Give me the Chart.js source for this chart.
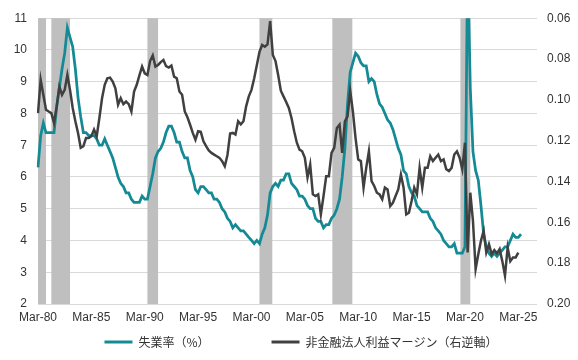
<!DOCTYPE html>
<html><head><meta charset="utf-8">
<script src="https://cdn.jsdelivr.net/npm/chart.js@4"></script>
<style>html,body{margin:0;padding:0;background:#fff}#wrap{width:578px;height:360px}</style>
</head><body><div id="wrap"><canvas id="c" width="578" height="360"></canvas></div>
<script>
// Quarterly categories: Mar-80 ... Dec-26
const firstYear = 1980;
const lastYear = 2026;
const quarterMonths = ['Mar', 'Jun', 'Sep', 'Dec'];
const tickEvery = 20; // one label every 5 years

const seriesNames = ['失業率（%）', '非金融法人利益マージン（右逆軸）'];

// Unemployment rate (%), quarterly from Mar-80
const unemployment = [
  6.3, 7.3, 7.7, 7.4,
  7.4, 7.4, 7.4, 8.2,
  8.8, 9.4, 9.9, 10.7,
  10.4, 10.1, 9.4, 8.5,
  7.9, 7.4, 7.4, 7.3,
  7.3, 7.3, 7.2, 7.0,
  7.0, 7.2, 7.0, 6.8,
  6.6, 6.3, 6.0, 5.8,
  5.7, 5.5, 5.5, 5.3,
  5.2, 5.2, 5.2, 5.4,
  5.3, 5.3, 5.7, 6.1,
  6.6, 6.8, 6.9, 7.1,
  7.4, 7.6, 7.6, 7.4,
  7.1, 7.1, 6.8, 6.6,
  6.6, 6.2, 6.0, 5.6,
  5.5, 5.7, 5.7, 5.6,
  5.5, 5.5, 5.3, 5.3,
  5.2, 5.0, 4.9, 4.7,
  4.6, 4.4, 4.5, 4.4,
  4.3, 4.3, 4.2, 4.1,
  4.0, 3.9, 4.0, 3.9,
  4.2, 4.4, 4.8, 5.5,
  5.7, 5.8, 5.7, 5.9,
  5.9, 6.1, 6.1, 5.8,
  5.7, 5.6, 5.4, 5.4,
  5.3, 5.1, 5.0, 5.0,
  4.7, 4.6, 4.6, 4.4,
  4.5, 4.5, 4.7, 4.8,
  5.0, 5.3, 6.0, 6.9,
  8.3, 9.3, 9.6, 9.9,
  9.8, 9.6, 9.5, 9.5,
  9.0, 9.1, 9.0, 8.6,
  8.3, 8.2, 8.0, 7.8,
  7.7, 7.5, 7.2, 6.9,
  6.7, 6.2, 6.1, 5.7,
  5.5, 5.4, 5.1, 5.0,
  4.9, 4.9, 4.9, 4.7,
  4.6, 4.4, 4.3, 4.2,
  4.0, 3.9, 3.8, 3.8,
  3.9, 3.6, 3.6, 3.6,
  3.8, 13.0, 8.8, 6.8,
  6.2, 5.9, 5.1, 4.2,
  3.8, 3.6, 3.5, 3.6,
  3.5, 3.6, 3.7, 3.8,
  3.8, 4.0, 4.2, 4.1,
  4.1, 4.2
];

// Non-financial corporate profit margin (right axis, reversed), quarterly from Mar-80
const profitMargin = [
  0.1065, 0.0902, 0.0975, 0.1048,
  0.1057, 0.1065, 0.1113, 0.1032,
  0.0935, 0.0975, 0.0951, 0.0878,
  0.0951, 0.1040, 0.1105, 0.1162,
  0.1235, 0.1227, 0.1187, 0.1187,
  0.1178, 0.1146, 0.1178, 0.1089,
  0.0992, 0.0926, 0.0894, 0.0891,
  0.0910, 0.0943, 0.1024, 0.0992,
  0.1021, 0.1008, 0.1021, 0.1057,
  0.0959, 0.0926, 0.0880, 0.0837,
  0.0870, 0.0878, 0.0810, 0.0783,
  0.0837, 0.0829, 0.0815, 0.0805,
  0.0835, 0.0842, 0.0832, 0.0886,
  0.0894, 0.0959, 0.0975, 0.1057,
  0.1085, 0.1122, 0.1162, 0.1195,
  0.1154, 0.1157, 0.1203, 0.1227,
  0.1248, 0.1260, 0.1268, 0.1276,
  0.1284, 0.1300, 0.1325, 0.1270,
  0.1165, 0.1162, 0.1170, 0.1105,
  0.1120, 0.1105, 0.1032, 0.0983,
  0.0951, 0.0895, 0.0830, 0.0765,
  0.0731, 0.0740, 0.0728, 0.0614,
  0.0780, 0.0810, 0.0878, 0.0955,
  0.0983, 0.1010, 0.1040, 0.1089,
  0.1154, 0.1210, 0.1244, 0.1252,
  0.1284, 0.1380, 0.1317, 0.1463,
  0.1471, 0.1463, 0.1561, 0.1471,
  0.1374, 0.1374, 0.1260, 0.1235,
  0.1138, 0.1122, 0.1260, 0.1105,
  0.1081, 0.0956, 0.1057, 0.1187,
  0.1292, 0.1300, 0.1430, 0.1333,
  0.1252, 0.1398, 0.1422, 0.1455,
  0.1463, 0.1487, 0.1430, 0.1439,
  0.1520, 0.1504, 0.1471, 0.1439,
  0.1366, 0.1430, 0.1561, 0.1553,
  0.1496, 0.1430, 0.1463, 0.1333,
  0.1430, 0.1333, 0.1333, 0.1276,
  0.1300, 0.1284, 0.1268, 0.1300,
  0.1292, 0.1340, 0.1349, 0.1333,
  0.1268, 0.1252, 0.1284, 0.1340,
  0.1210, 0.1748, 0.1455, 0.1593,
  0.1829, 0.1756, 0.1690, 0.1642,
  0.1748, 0.1707, 0.1756, 0.1736,
  0.1752, 0.1731, 0.1790, 0.1861,
  0.1723, 0.1790, 0.1772, 0.1772,
  0.1748
];

// Recession shading, as [start, end] in quarter index units
const recessions = [[0, 3], [5, 12], [41, 45], [83, 87.8], [110.3, 117.8], [158.3, 162]];

const leftAxis = { min: 2, max: 11, step: 1 };
const rightAxis = { min: 0.06, max: 0.20, step: 0.02 };

const categories = [];
for (let y = firstYear; y <= lastYear; y++) {
  for (const m of quarterMonths) categories.push(m + '-' + String(y).slice(2));
}

const recessionPlugin = {
  id: 'recessions',
  beforeDatasetsDraw(chart) {
    const { ctx, chartArea, scales } = chart;
    const x = scales.x;
    ctx.save();
    ctx.fillStyle = '#bfbfbf';
    for (const [a, b] of recessions) {
      const x0 = x.getPixelForValue(a);
      const x1 = x.getPixelForValue(b);
      ctx.fillRect(x0, chartArea.top, x1 - x0, chartArea.bottom - chartArea.top);
    }
    ctx.restore();
  }
};

// Nudge the centred legend slightly to the right, as in the reference
const legendShift = {
  id: 'legendShift',
  afterLayout(chart) {
    if (chart.legend) { chart.legend.left += 12; chart.legend.right += 12; }
  }
};

const tickFont = { family: "'Liberation Sans', Arial, sans-serif", size: 12 };
const textColor = '#333333';

new Chart(document.getElementById('c'), {
  type: 'line',
  data: {
    labels: categories,
    datasets: [
      {
        label: seriesNames[0], data: unemployment, yAxisID: 'y',
        borderColor: '#138A94', backgroundColor: '#138A94',
        borderWidth: 2.75, pointRadius: 0, tension: 0, order: 1
      },
      {
        label: seriesNames[1], data: profitMargin, yAxisID: 'y1',
        borderColor: '#404040', backgroundColor: '#404040',
        borderWidth: 2.5, pointRadius: 0, tension: 0, order: 0
      }
    ]
  },
  options: {
    responsive: false,
    devicePixelRatio: 1,
    animation: false,
    layout: { padding: { top: 17, right: 0, bottom: 2, left: 0 } },
    plugins: {
      tooltip: { enabled: false },
      legend: {
        position: 'bottom',
        labels: {
          boxWidth: 28, boxHeight: 3, padding: 8,
          color: textColor,
          font: { family: "'Noto Sans CJK JP', sans-serif", size: 12 },
          generateLabels(chart) {
            return chart.data.datasets.map((ds, i) => ({
              text: ds.label + (i === 0 ? '\u3000\u3000\u3000\u3000\u3000' : ''),
              fillStyle: ds.borderColor,
              strokeStyle: ds.borderColor,
              lineWidth: 0,
              hidden: false,
              datasetIndex: i,
              fontColor: textColor
            }));
          }
        }
      }
    },
    scales: {
      x: {
        type: 'category',
        offset: false,
        grid: { display: false, drawTicks: false },
        border: { display: false },
        ticks: {
          autoSkip: false, maxRotation: 0, minRotation: 0, padding: 6,
          font: tickFont, color: textColor
        },
        afterBuildTicks(scale) {
          scale.ticks = scale.ticks.filter(t => t.value % tickEvery === 0);
        },
        afterFit(scale) { scale.height = 24; }
      },
      y: {
        position: 'left',
        min: leftAxis.min, max: leftAxis.max,
        grid: { color: '#d9d9d9', lineWidth: 1, drawTicks: false },
        border: { display: false },
        ticks: { stepSize: leftAxis.step, padding: 11, font: tickFont, color: textColor },
        afterFit(scale) { scale.width = 38; }
      },
      y1: {
        position: 'right',
        reverse: true,
        min: rightAxis.min, max: rightAxis.max,
        grid: { display: false, drawTicks: false },
        border: { display: false },
        ticks: {
          stepSize: rightAxis.step, padding: 10, font: tickFont, color: textColor,
          callback: v => Number(v).toFixed(2)
        },
        afterFit(scale) { scale.width = 41; }
      }
    }
  },
  plugins: [recessionPlugin, legendShift]
});
</script>
</body></html>
